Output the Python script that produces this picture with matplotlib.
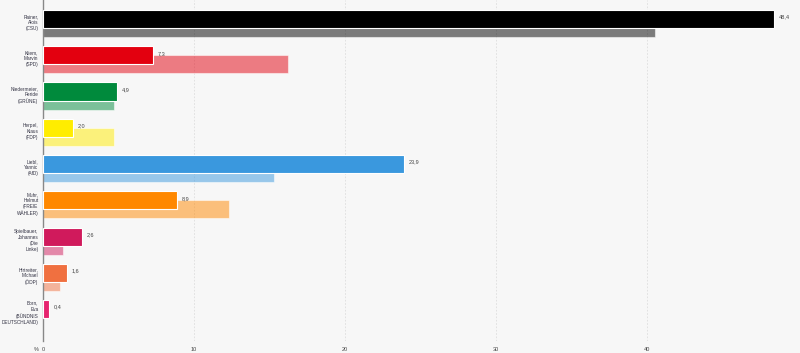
import matplotlib.pyplot as plt
from matplotlib.ticker import FixedLocator

# Kandidaten, Ergebnis (aktuell) und Vorwahl
kandidaten = [
    "Rainer,\nAlois\n(CSU)",
    "Kliem,\nMarvin\n(SPD)",
    "Niedermeier,\nFeride\n(GRÜNE)",
    "Herpel,\nKlaus\n(FDP)",
    "Liebl,\nYannic\n(AfD)",
    "Muhr,\nHelmut\n(FREIE\nWÄHLER)",
    "Spielbauer,\nJohannes\n(Die\nLinke)",
    "Hirtreiter,\nMichael\n(ÖDP)",
    "Born,\nEva\n(BÜNDNIS\nDEUTSCHLAND)",
]
aktuell = [48.4, 7.3, 4.9, 2.0, 23.9, 8.9, 2.6, 1.6, 0.4]
vorwahl = [40.5, 16.2, 4.7, 4.7, 15.3, 12.3, 1.3, 1.1, None]
farben = ["#000000", "#e3000f", "#008a3c", "#ffed00", "#3a98de",
          "#ff8800", "#d01a5c", "#f07040", "#e6246f"]
x_ticks = [0, 10, 20, 30, 40]

plt.rcParams["font.family"] = ["Liberation Sans", "DejaVu Sans"]

bg = "#f7f7f7"
fig = plt.figure(figsize=(8, 3.53), dpi=100, facecolor=bg)
ax = fig.add_axes([43 / 800, 12 / 353, 755 / 800, 341 / 353], facecolor=bg)

for i, (akt, vor, col) in enumerate(zip(aktuell, vorwahl, farben)):
    if vor is not None:
        ax.barh(i + 0.25, vor, height=0.5, color=col, alpha=0.5,
                edgecolor="white", linewidth=0.8, zorder=2)
    ax.barh(i, akt, height=0.5, color=col, edgecolor="white",
            linewidth=0.8, zorder=3)
    ax.text(akt + 0.3, i - 0.05, f"{akt:.1f}".replace(".", ","),
            fontsize=4, color="#444444", va="center", ha="left", zorder=4)
    ax.text(-0.3, i + 0.1, kandidaten[i], fontsize=3.4, color="#333344",
            ha="right", va="center", linespacing=1.25)

ax.set_xlim(0, 50)
ax.set_ylim(8.88, -0.524)
ax.xaxis.set_major_locator(FixedLocator(x_ticks))
ax.set_xticklabels([str(t) for t in x_ticks], fontsize=4, color="#444444")
ax.tick_params(axis="x", length=0, pad=4)
ax.set_yticks([])
ax.grid(axis="x", color="#dddddd", linestyle=(0, (2, 2)), linewidth=0.6, zorder=0)
for s in ["top", "right", "bottom"]:
    ax.spines[s].set_visible(False)
ax.spines["left"].set_color("#888888")
ax.spines["left"].set_linewidth(1)
ax.annotate("%", xy=(0, 0), xycoords="axes fraction", xytext=(-3, -4),
            textcoords="offset points", fontsize=4, color="#444444",
            ha="right", va="top")

fig.savefig("out.png", dpi=100, facecolor=bg)
